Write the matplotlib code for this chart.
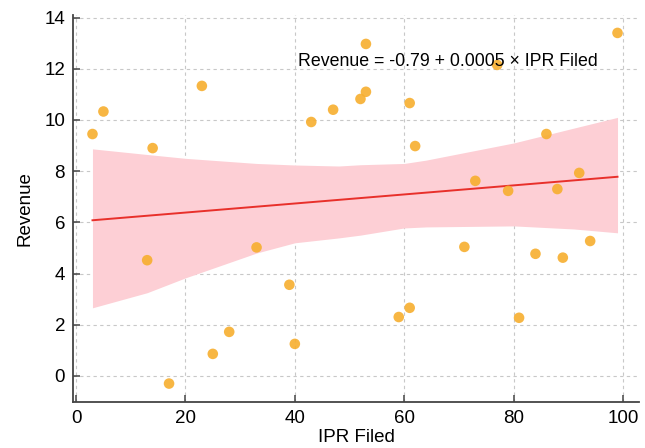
import matplotlib.pyplot as plt

plt.rcParams['font.family'] = ['Liberation Sans', 'DejaVu Sans']

# IPR filed vs revenue
ipr = [3, 5, 13, 14, 17, 23, 25, 28, 33, 39, 40, 43, 47, 52, 53, 53,
       59, 61, 61, 62, 71, 73, 77, 79, 81, 84, 86, 88, 89, 92, 94, 99]
revenue = [9.45, 10.33, 4.52, 8.9, -0.3, 11.33, 0.86, 1.72, 5.02, 3.56, 1.25, 9.92, 10.4, 10.82, 11.1, 12.97,
           2.3, 2.66, 10.66, 8.98, 5.04, 7.62, 12.15, 7.23, 2.27, 4.77, 9.45, 7.3, 4.62, 7.93, 5.27, 13.4]

# fitted line and confidence band edges
fit_x = [3, 99]
fit_y = [6.08, 7.78]
band_x = [3, 13, 20, 33, 40, 48, 52, 60, 64, 80, 91, 99]
band_hi = [8.87, 8.65, 8.5, 8.3, 8.24, 8.2, 8.25, 8.3, 8.43, 9.1, 9.68, 10.1]
band_lo = [2.66, 3.25, 3.83, 4.8, 5.2, 5.39, 5.5, 5.78, 5.82, 5.86, 5.74, 5.59]

fig = plt.figure(figsize=(6.45, 4.48), dpi=100)
ax = fig.add_axes([0.1137, 0.1027, 0.8776, 0.8638])

ax.fill_between(band_x, band_lo, band_hi, color='#FDCFD5', linewidth=0, zorder=1)
ax.plot(fit_x, fit_y, color='#E8302A', linewidth=1.4, zorder=2)
ax.scatter(ipr, revenue, s=58, color='#F7AE2E', alpha=0.9, edgecolors='none', zorder=3)

ax.text(40.6, 12.27, 'Revenue = -0.79 + 0.0005 × IPR Filed', fontsize=12.8,
        va='center', ha='left', zorder=5)

ax.set_xlim(-0.5, 103)
ax.set_ylim(-1.02, 14.1)
ax.set_xticks([0, 20, 40, 60, 80, 100])
ax.set_yticks([0, 2, 4, 6, 8, 10, 12, 14])

ax.set_xlabel('IPR Filed', fontsize=13.5, labelpad=1)
ax.set_ylabel('Revenue', fontsize=13.5, labelpad=8)

for side in ['top', 'right']:
    ax.spines[side].set_visible(False)
for side in ['left', 'bottom']:
    ax.spines[side].set_color('#444444')
    ax.spines[side].set_linewidth(1.3)

ax.tick_params(direction='in', length=5, width=1.1, color='#444444', labelsize=13.5, pad=6)
ax.grid(True, linestyle=(0, (3, 3)), color='#C8C8C8', linewidth=0.8)
ax.set_axisbelow(True)

fig.savefig('out.png', dpi=100)
